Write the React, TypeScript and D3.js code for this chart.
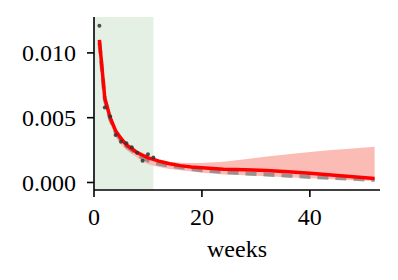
import React, { useEffect, useRef } from 'react';
import * as d3 from 'd3';

// observed weekly values (training period)
const obsWeeks = [1, 2, 3, 4, 5, 6, 7, 8, 9, 10, 11];
const obsValues = [0.0121, 0.00578, 0.00509, 0.00367, 0.00315, 0.00303, 0.00272, 0.0023, 0.00168, 0.00218, 0.00192];

// model curves
const weeks = [1, 2, 3, 4, 5, 6, 7, 8, 9, 10, 11, 12, 14, 16, 18, 20, 24, 28, 32, 36, 40, 44, 48, 52];
const fitValues = [0.011, 0.0065, 0.005, 0.004, 0.0034, 0.0029, 0.0026, 0.0023, 0.0021, 0.0019, 0.00178, 0.00165, 0.00145, 0.0013, 0.0012, 0.00113, 0.00102, 0.00098, 0.00093, 0.00083, 0.00072, 0.00058, 0.00044, 0.0003];
const trueValues = [0.0108, 0.0064, 0.0049, 0.0039, 0.0033, 0.0028, 0.0025, 0.0022, 0.0019, 0.0017, 0.00155, 0.00145, 0.0013, 0.00118, 0.00105, 0.00095, 0.0008, 0.0007, 0.00062, 0.00052, 0.00043, 0.00035, 0.00028, 0.0002];
const upperValues = [0.0112, 0.0067, 0.0052, 0.0042, 0.0036, 0.0031, 0.0028, 0.0025, 0.0023, 0.0021, 0.0019, 0.0018, 0.0016, 0.00152, 0.0015, 0.0015, 0.0016, 0.0018, 0.002, 0.00218, 0.00236, 0.0025, 0.00263, 0.00275];
const lowerValues = [0.0104, 0.006, 0.0045, 0.0035, 0.0029, 0.0025, 0.0022, 0.0019, 0.0016, 0.0014, 0.0013, 0.0012, 0.00105, 0.00095, 0.00085, 0.00075, 0.00062, 0.00055, 0.00048, 0.0004, 0.00032, 0.00025, 0.00018, 0.00012];

const xTicks = [0, 20, 40];
const yTicks = [0, 0.005, 0.01];
const trainEnd = 11;

const Chart: React.FC = () => {
  const svgRef = useRef<SVGSVGElement>(null);

  useEffect(() => {
    if (!svgRef.current) return;
    const svg = d3.select(svgRef.current);
    svg.selectAll("*").remove();

    const left = 94, right = 380, top = 17, bottom = 190;
    const x = d3.scaleLinear().domain([0, 53]).range([left, right]);
    const y = d3.scaleLinear().domain([-0.00058, 0.01277]).range([bottom, top]);
    const font = "'Liberation Serif', 'DejaVu Serif', serif";

    // training window
    svg.append("rect")
      .attr("x", x(0)).attr("y", top)
      .attr("width", x(trainEnd) - x(0)).attr("height", bottom - top)
      .attr("fill", "#e3f0e3");

    // uncertainty band
    const band = d3.area<number>()
      .x((_, i) => x(weeks[i]))
      .y0((_, i) => y(lowerValues[i]))
      .y1((_, i) => y(upperValues[i]));
    svg.append("path")
      .attr("d", band(weeks) as string)
      .attr("fill", "#fbbcb6");

    const line = (vals: number[]) => d3.line<number>()
      .x((_, i) => x(weeks[i]))
      .y((_, i) => y(vals[i]))(weeks) as string;

    svg.append("path")
      .attr("d", line(trueValues))
      .attr("fill", "none")
      .attr("stroke", "#7f7f7f")
      .attr("stroke-opacity", 0.75)
      .attr("stroke-width", 4)
      .attr("stroke-dasharray", "11,7");

    svg.append("path")
      .attr("d", line(fitValues))
      .attr("fill", "none")
      .attr("stroke", "#ff0000")
      .attr("stroke-width", 3.5);

    svg.selectAll(".pt").data(obsWeeks).enter().append("circle")
      .attr("cx", d => x(d))
      .attr("cy", (_, i) => y(obsValues[i]))
      .attr("r", 2)
      .attr("fill", "#333")
      .attr("opacity", 0.85);

    // spines
    svg.append("line").attr("x1", left).attr("x2", left).attr("y1", top).attr("y2", bottom)
      .attr("stroke", "black").attr("stroke-width", 1.6);
    svg.append("line").attr("x1", left).attr("x2", right).attr("y1", bottom).attr("y2", bottom)
      .attr("stroke", "black").attr("stroke-width", 1.6);

    yTicks.forEach(t => {
      svg.append("line").attr("x1", left - 7).attr("x2", left).attr("y1", y(t)).attr("y2", y(t))
        .attr("stroke", "black").attr("stroke-width", 1.6);
      svg.append("text")
        .attr("x", left - 18).attr("y", y(t) + 8.5)
        .attr("text-anchor", "end")
        .attr("font-family", font).attr("font-size", "24px")
        .text(d3.format(".3f")(t));
    });

    xTicks.forEach(t => {
      svg.append("line").attr("x1", x(t)).attr("x2", x(t)).attr("y1", bottom).attr("y2", bottom + 7)
        .attr("stroke", "black").attr("stroke-width", 1.6);
      svg.append("text")
        .attr("x", x(t)).attr("y", 225)
        .attr("text-anchor", "middle")
        .attr("font-family", font).attr("font-size", "24px")
        .text(t);
    });

    svg.append("text")
      .attr("x", (left + right) / 2).attr("y", 257)
      .attr("text-anchor", "middle")
      .attr("font-family", font).attr("font-size", "24px")
      .text("weeks");
  }, []);

  return <svg ref={svgRef} width={398} height={280} style={{ display: 'block' }} />;
};

export default function App() {
  return (
    <div style={{ position: 'absolute', left: 0, top: 0, background: 'white' }}>
      <Chart />
    </div>
  );
}
